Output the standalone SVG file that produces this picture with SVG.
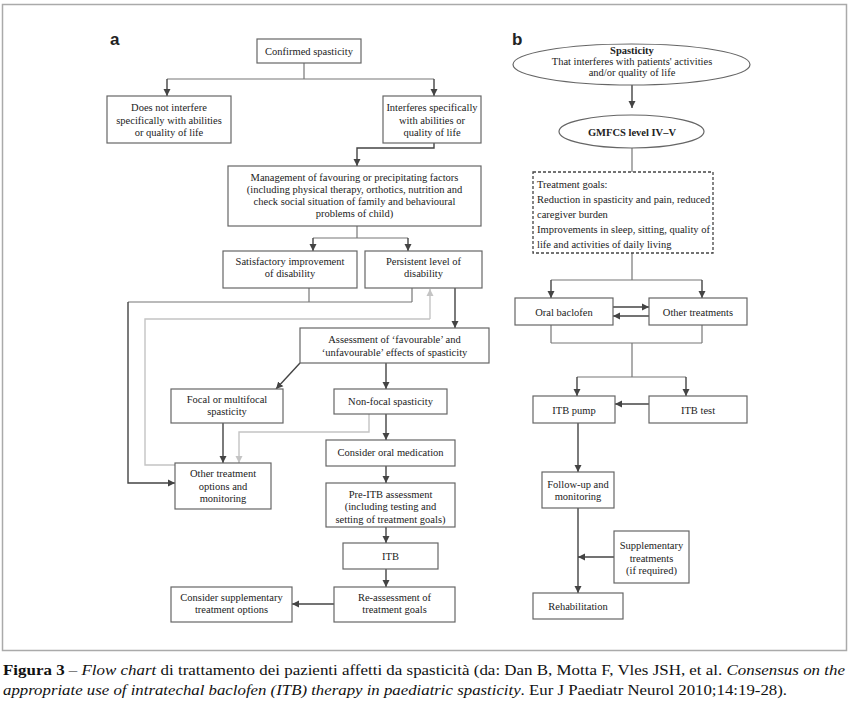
<svg xmlns="http://www.w3.org/2000/svg" width="850" height="707" viewBox="0 0 850 707">
<style>
.box{fill:#fff;stroke:#666;stroke-width:1.2}
.dash{fill:#fff;stroke:#444;stroke-width:1.3;stroke-dasharray:3,2}
.t{font-family:"Liberation Serif","Times New Roman",serif;font-size:10.5px;fill:#222;text-anchor:middle}
.tl{font-family:"Liberation Serif","Times New Roman",serif;font-size:10.5px;fill:#222}
.b{font-weight:bold}
.lbl{font-family:"Liberation Sans",Arial,sans-serif;font-size:17px;font-weight:bold;fill:#222}
.ln{fill:none;stroke:#777;stroke-width:1.2}
.ar{fill:none;stroke:#444;stroke-width:1.4;marker-end:url(#ah)}
.gl{fill:none;stroke:#c4c4c4;stroke-width:1.4}
.ga{fill:none;stroke:#c4c4c4;stroke-width:1.4;marker-end:url(#gh)}
.cap{font-family:"Liberation Serif","Times New Roman",serif;font-size:15.5px;fill:#111}
</style>
<defs>
<marker id="ah" markerUnits="userSpaceOnUse" markerWidth="8" markerHeight="8" refX="7" refY="4" orient="auto"><path d="M0,0.5 L7,4 L0,7.5 z" fill="#444"/></marker>
<marker id="gh" markerUnits="userSpaceOnUse" markerWidth="8" markerHeight="8" refX="7" refY="4" orient="auto"><path d="M0,0.5 L7,4 L0,7.5 z" fill="#c4c4c4"/></marker>
</defs>
<rect x="0" y="0" width="850" height="707" fill="#fff"/>
<rect x="2.5" y="4.5" width="844" height="646" fill="none" stroke="#aaa" stroke-width="1.5"/>

<text class="lbl" x="110" y="45">a</text>
<text class="lbl" x="512" y="45">b</text>

<g id="connectors">
<path class="ln" d="M304,63 V79 M167,79 H434"/>
<path class="ar" d="M167,79 V96"/>
<path class="ar" d="M434,79 V96"/>
<path class="ar" d="M434,143 V148 H357 V166"/>
<path class="ln" d="M357,226 V238 M313,238 H408"/>
<path class="ar" d="M313,238 V251"/>
<path class="ar" d="M408,238 V251"/>
<path class="ln" d="M309,288 V302 M412,288 V302 M128,302 H412"/>
<path class="ar" d="M128,302 V483 H175"/>
<path class="gl" d="M175,465 H145 V319 H430"/>
<path class="ga" d="M430,319 V289"/>
<path class="ar" d="M455,288 V328"/>
<path class="ar" d="M300,363 L276,389"/>
<path class="ar" d="M386,363 V389"/>
<path class="ga" d="M369,414 V432 H239 V463"/>
<path class="ar" d="M386,414 V440"/>
<path class="ar" d="M223,423 V463"/>
<path class="ar" d="M386,466 V483"/>
<path class="ar" d="M386,527 V543"/>
<path class="ar" d="M386,569 V587"/>
<path class="ar" d="M334,604 H292"/>

<path class="ar" d="M632,85 V108"/>
<path class="ln" d="M632,148 V172"/>
<path class="ln" d="M632,253 V280 M551,280 H702"/>
<path class="ar" d="M551,280 V298"/>
<path class="ar" d="M702,280 V298"/>
<path class="ar" d="M613,307 H649"/>
<path class="ar" d="M649,316 H613"/>
<path class="ln" d="M551,325 V343 M702,325 V343 M551,343 H702 M632,343 V377 M577,377 H686"/>
<path class="ar" d="M577,377 V396"/>
<path class="ar" d="M686,377 V396"/>
<path class="ar" d="M649,404 H615"/>
<path class="ar" d="M578,423 V472"/>
<path class="ar" d="M578,508 V593"/>
<path class="ar" d="M614,557 H578"/>
</g>

<g id="confirmed"><rect class="box" x="257" y="39" width="104" height="24"/><text class="t" x="309" y="54.5">Confirmed spasticity</text></g>
<g id="notinterfere"><rect class="box" x="107" y="96" width="124" height="47"/><text class="t" x="169" y="111">Does not interfere</text><text class="t" x="169" y="123.5">specifically with abilities</text><text class="t" x="169" y="136">or quality of life</text></g>
<g id="interferes"><rect class="box" x="383" y="96" width="98" height="47"/><text class="t" x="432" y="111">Interferes specifically</text><text class="t" x="432" y="123.5">with abilities or</text><text class="t" x="432" y="136">quality of life</text></g>
<g id="management"><rect class="box" x="228" y="166" width="253" height="60"/><text class="t" x="354.5" y="181">Management of favouring or precipitating factors</text><text class="t" x="354.5" y="193">(including physical therapy, orthotics, nutrition and</text><text class="t" x="354.5" y="205">check social situation of family and behavioural</text><text class="t" x="354.5" y="217">problems of child)</text></g>
<g id="satisfactory"><rect class="box" x="223" y="251" width="134" height="37"/><text class="t" x="290" y="265">Satisfactory improvement</text><text class="t" x="290" y="277">of disability</text></g>
<g id="persistent"><rect class="box" x="365" y="251" width="117" height="37"/><text class="t" x="423.5" y="265">Persistent level of</text><text class="t" x="423.5" y="277">disability</text></g>
<g id="assessment"><rect class="box" x="300" y="328" width="189" height="35"/><text class="t" x="394.5" y="343">Assessment of ‘favourable’ and</text><text class="t" x="394.5" y="356">‘unfavourable’ effects of spasticity</text></g>
<g id="focal"><rect class="box" x="171" y="389" width="112" height="34"/><text class="t" x="227" y="403">Focal or multifocal</text><text class="t" x="227" y="415">spasticity</text></g>
<g id="nonfocal"><rect class="box" x="334" y="389" width="113" height="25"/><text class="t" x="390.5" y="404.5">Non-focal spasticity</text></g>
<g id="oralmed"><rect class="box" x="326" y="440" width="129" height="26"/><text class="t" x="390.5" y="456">Consider oral medication</text></g>
<g id="othertreat"><rect class="box" x="175" y="463" width="96" height="46"/><text class="t" x="223" y="477">Other treatment</text><text class="t" x="223" y="489.5">options and</text><text class="t" x="223" y="502">monitoring</text></g>
<g id="preitb"><rect class="box" x="326" y="483" width="129" height="44"/><text class="t" x="390.5" y="498">Pre-ITB assessment</text><text class="t" x="390.5" y="510">(including testing and</text><text class="t" x="390.5" y="523">setting of treatment goals)</text></g>
<g id="itb"><rect class="box" x="343" y="543" width="95" height="26"/><text class="t" x="390.5" y="560">ITB</text></g>
<g id="reassess"><rect class="box" x="334" y="587" width="121" height="35"/><text class="t" x="394.5" y="601">Re-assessment of</text><text class="t" x="394.5" y="613">treatment goals</text></g>
<g id="supplopt"><rect class="box" x="171" y="587" width="121" height="35"/><text class="t" x="231.5" y="601">Consider supplementary</text><text class="t" x="231.5" y="613">treatment options</text></g>

<g id="spasticity"><ellipse class="box" cx="631.5" cy="64.5" rx="118.5" ry="20.5"/><text class="t b" x="632" y="54">Spasticity</text><text class="t" x="632" y="65">That interferes with patients' activities</text><text class="t" x="632" y="75.5">and/or quality of life</text></g>
<g id="gmfcs"><ellipse class="box" cx="631.5" cy="131.5" rx="72.5" ry="16.5"/><text class="t b" x="632" y="135.5">GMFCS level IV–V</text></g>
<g id="goals"><rect class="dash" x="533" y="172" width="180" height="81"/><text class="tl" x="537" y="188">Treatment goals:</text><text class="tl" x="537" y="203">Reduction in spasticity and pain, reduced</text><text class="tl" x="537" y="218">caregiver burden</text><text class="tl" x="537" y="233">Improvements in sleep, sitting, quality of</text><text class="tl" x="537" y="248">life and activities of daily living</text></g>
<g id="oralbaclofen"><rect class="box" x="515" y="298" width="98" height="27"/><text class="t" x="564" y="315.5">Oral baclofen</text></g>
<g id="othertreatments"><rect class="box" x="649" y="298" width="98" height="27"/><text class="t" x="698" y="315.5">Other treatments</text></g>
<g id="itbpump"><rect class="box" x="533" y="396" width="82" height="27"/><text class="t" x="574" y="413.5">ITB pump</text></g>
<g id="itbtest"><rect class="box" x="649" y="396" width="98" height="27"/><text class="t" x="698" y="413.5">ITB test</text></g>
<g id="followup"><rect class="box" x="542" y="472" width="72" height="36"/><text class="t" x="578" y="488">Follow-up and</text><text class="t" x="578" y="500">monitoring</text></g>
<g id="supplementary"><rect class="box" x="614" y="531" width="75" height="52"/><text class="t" x="651.5" y="549">Supplementary</text><text class="t" x="651.5" y="561.5">treatments</text><text class="t" x="651.5" y="574">(if required)</text></g>
<g id="rehab"><rect class="box" x="533" y="593" width="90" height="26"/><text class="t" x="578" y="609.5">Rehabilitation</text></g>

<text class="cap" x="3" y="675" textLength="842" lengthAdjust="spacingAndGlyphs"><tspan font-weight="bold">Figura 3</tspan> – <tspan font-style="italic">Flow chart</tspan> di trattamento dei pazienti affetti da spasticità (da: Dan B, Motta F, Vles JSH, et al. <tspan font-style="italic">Consensus on the</tspan></text>
<text class="cap" x="3" y="695" textLength="784" lengthAdjust="spacingAndGlyphs"><tspan font-style="italic">appropriate use of intratechal baclofen (ITB) therapy in paediatric spasticity</tspan>. Eur J Paediatr Neurol 2010;14:19-28).</text>
</svg>
